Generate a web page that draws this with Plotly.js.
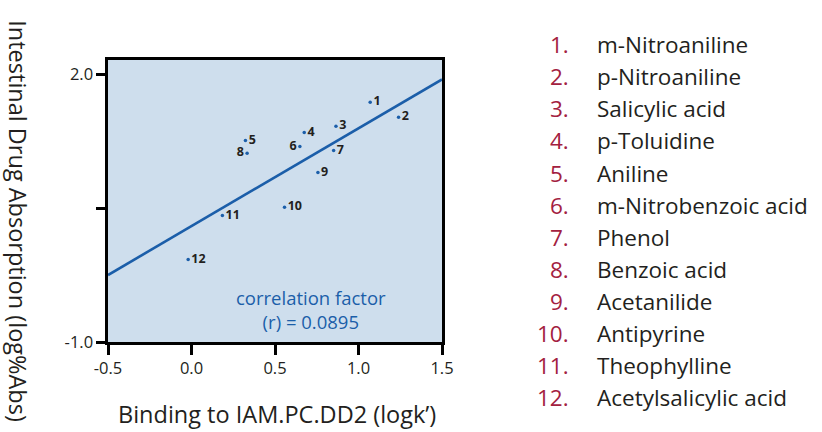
<!DOCTYPE html>
<html>
<head>
<meta charset="utf-8">
<script src="https://cdn.plot.ly/plotly-3.0.1.min.js"></script>
<style>html,body{margin:0;padding:0;background:#fff;}#chart{width:822px;height:432px;}</style>
</head>
<body>
<div id="chart"></div>
<script>
// ---- data ----
var pointIds = ['1','2','3','4','5','6','7','8','9','10','11','12'];
var bindingLogk = [1.07, 1.24, 0.865, 0.675, 0.323, 0.649, 0.851, 0.333, 0.757, 0.557, 0.185, -0.02];
var absorptionLog = [1.683, 1.515, 1.414, 1.346, 1.257, 1.189, 1.145, 1.114, 0.898, 0.509, 0.416, -0.077];
var labelSide = ['right','right','right','right','right','left','right','left','right','right','right','right'];
var fitX = [-0.5, 1.5];
var fitY = [-0.25, 1.94];
var compoundNames = ['m-Nitroaniline','p-Nitroaniline','Salicylic acid','p-Toluidine','Aniline',
  'm-Nitrobenzoic acid','Phenol','Benzoic acid','Acetanilide','Antipyrine','Theophylline','Acetylsalicylic acid'];
var xTickVals = [-0.5, 0, 0.5, 1.0, 1.5];
var xTickText = ['-0.5','0.0','0.5','1.0','1.5'];
var yTickVals = [-1.0, 0.5, 2.0];
var yTickText = ['-1.0','','2.0'];
var corrText = 'correlation factor<br>(r) = 0.0895';

// ---- layout geometry ----
var W = 822, H = 432;
var L = 108, R = 441.7, T = 60, B = 341.7;
function px2x(px){ return (px - L) / (R - L); }
function py2y(py){ return (B - py) / (B - T); }

var FONT = '"Open Sans", "Noto Sans", sans-serif';
var blue = '#1b5ea9';
var crimson = '#a3213f';
var ink = '#231f20';

var traces = [
  { x: fitX, y: fitY, mode: 'lines', line: {color: blue, width: 2.6}, hoverinfo: 'skip', showlegend: false },
  { x: bindingLogk, y: absorptionLog, mode: 'markers+text', text: pointIds,
    textposition: labelSide.map(function(s){ return 'middle ' + s; }),
    textfont: {family: FONT, size: 12.5, color: ink, weight: 700},
    marker: {color: blue, size: 3.5}, showlegend: false, cliponaxis: false }
];

var annotations = [];
annotations.push({ xref: 'paper', yref: 'paper', x: px2x(311), y: py2y(309), text: corrText,
  showarrow: false, font: {family: FONT, size: 18.5, color: blue}, align: 'center',
  xanchor: 'center', yanchor: 'middle' });
// y-axis title rotated top-to-bottom
annotations.push({ xref: 'paper', yref: 'paper', x: px2x(18), y: py2y(221),
  text: 'Intestinal Drug Absorption (log%Abs)', textangle: 90, showarrow: false,
  font: {family: FONT, size: 23.5, color: ink}, xanchor: 'center', yanchor: 'middle' });
// x-axis title
annotations.push({ xref: 'paper', yref: 'paper', x: px2x(277), y: py2y(414),
  text: 'Binding to IAM.PC.DD2 (logk’)', showarrow: false,
  font: {family: FONT, size: 23.5, color: ink}, xanchor: 'center', yanchor: 'middle' });
// compound list
for (var i = 0; i < compoundNames.length; i++) {
  var rowY = 45 + i * 31.97;
  annotations.push({ xref: 'paper', yref: 'paper', x: px2x(571), y: py2y(rowY),
    text: pointIds[i] + '.', showarrow: false, font: {family: FONT, size: 22.5, color: crimson},
    xanchor: 'right', yanchor: 'middle' });
  annotations.push({ xref: 'paper', yref: 'paper', x: px2x(595), y: py2y(rowY),
    text: compoundNames[i], showarrow: false, font: {family: FONT, size: 22.5, color: ink},
    xanchor: 'left', yanchor: 'middle' });
}

var layout = {
  width: W, height: H,
  margin: {l: L, r: W - R, t: T, b: H - B, pad: 0},
  paper_bgcolor: '#ffffff', plot_bgcolor: '#cedeed',
  font: {family: FONT, color: ink},
  showlegend: false,
  xaxis: { range: [-0.5, 1.5], tickvals: xTickVals, ticktext: xTickText, ticks: 'outside',
    ticklen: 10, tickwidth: 3, tickcolor: '#000', showline: true, linecolor: '#000', linewidth: 2.6,
    mirror: true, showgrid: false, zeroline: false, tickfont: {family: FONT, size: 16.5, color: ink} },
  yaxis: { range: [-1.0, 2.157], tickvals: yTickVals, ticktext: yTickText, ticks: 'outside',
    ticklen: 9, tickwidth: 3, tickcolor: '#000', showline: true, linecolor: '#000', linewidth: 2.6,
    mirror: true, showgrid: false, zeroline: false, tickfont: {family: FONT, size: 16.5, color: ink} },
  annotations: annotations
};

Plotly.newPlot('chart', traces, layout, {staticPlot: true, displayModeBar: false});
</script>
</body>
</html>
